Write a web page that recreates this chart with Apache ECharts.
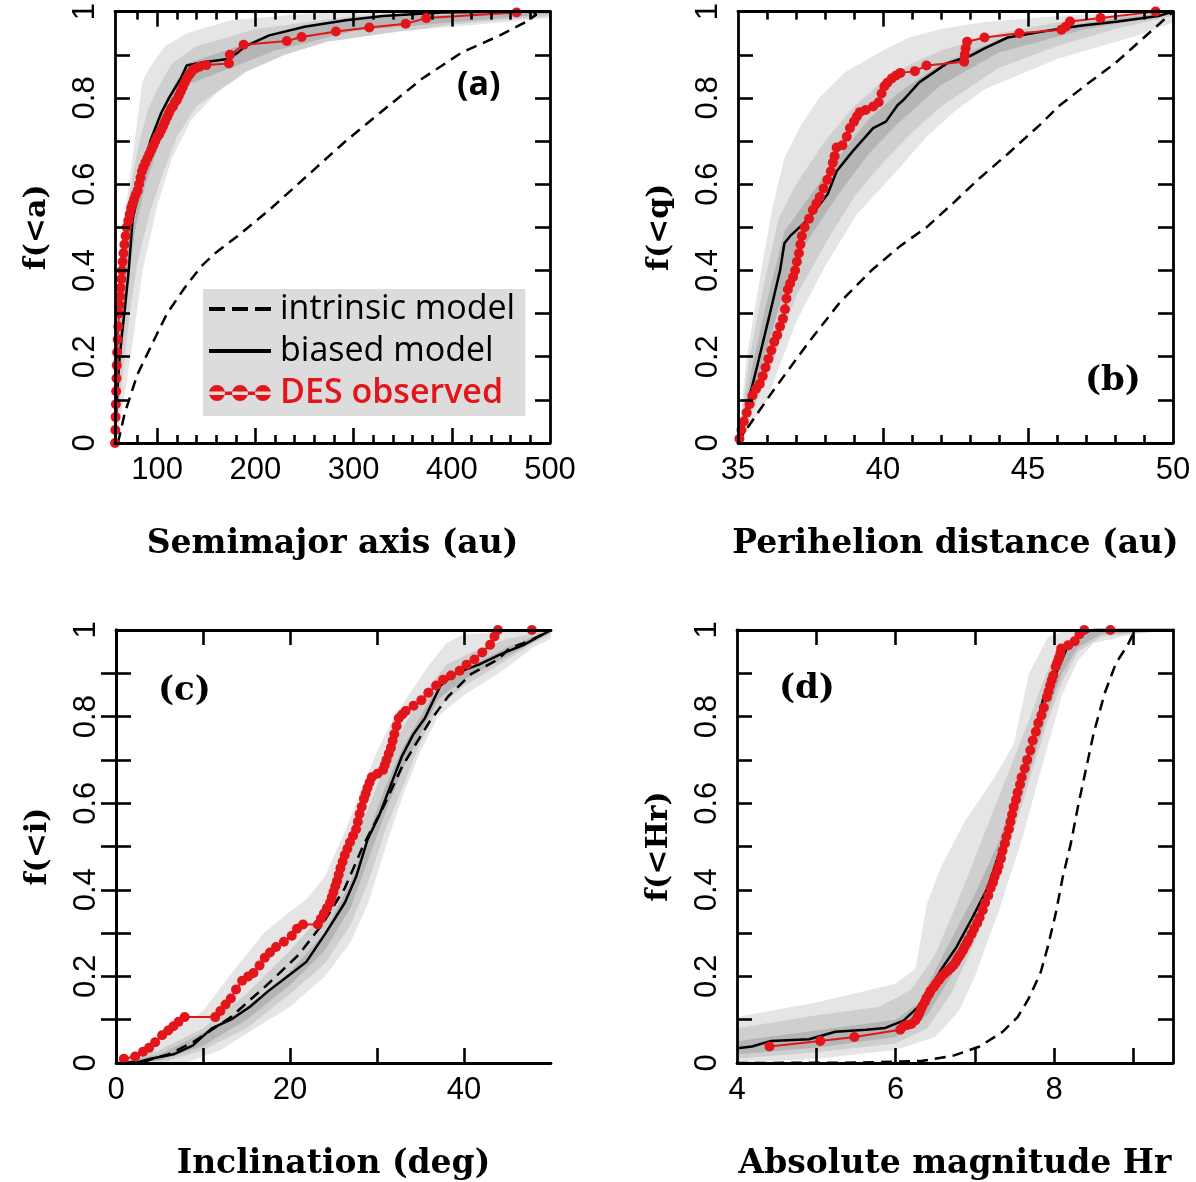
<!DOCTYPE html>
<html>
<head>
<meta charset="utf-8">
<title>DES ETNO distributions</title>
<script src="https://cdn.jsdelivr.net/npm/echarts@6/dist/echarts.min.js"></script>
<style>
  html, body { margin: 0; padding: 0; background: #fff; }
  #main { width: 1196px; height: 1182px; }
</style>
</head>
<body>
<div id="main"></div>
<script>
// ---- axis ticks / labels ----
var yTicks = [0.1, 0.2, 0.3, 0.4, 0.5, 0.6, 0.7, 0.8, 0.9];
var yLabels = [0, 0.2, 0.4, 0.6, 0.8, 1];

var aRange = [57, 500];
var aMajor = [100, 200, 300, 400];
var aMinor = [80, 120, 140, 160, 180, 220, 240, 260, 280, 320, 340, 360, 380, 420, 440, 460, 480];
var aLabels = [100, 200, 300, 400, 500];

var bRange = [35, 50];
var bMajor = [40, 45];
var bMinor = [36, 37, 38, 39, 41, 42, 43, 44, 46, 47, 48, 49];
var bLabels = [35, 40, 45, 50];

var cRange = [0, 50];
var cMajor = [10, 20, 30, 40];
var cLabels = [0, 20, 40];

var dRange = [4, 9.5];
var dMajor = [5, 6, 7, 8, 9];
var dLabels = [4, 6, 8];

// ---- (a) semimajor axis ----
var aIntrinsic = [[60,0],[63,0.03],[67,0.07],[80,0.16],[97,0.24],[110,0.3],[128,0.36],[145,0.41],[159,0.44],[182,0.48],[214,0.54],[253,0.62],[292,0.7],[332,0.775],[370,0.845],[410,0.905],[449,0.945],[476,0.977],[486,0.993],[483,1]];
var aBiased = [[57,0],[58,0.06],[61,0.18],[64,0.25],[67,0.31],[71,0.4],[75,0.52],[79,0.56],[85,0.625],[93,0.7],[104,0.765],[112,0.8],[124,0.845],[130,0.875],[140,0.88],[155,0.885],[172,0.89],[182,0.905],[190,0.92],[214,0.945],[250,0.965],[292,0.98],[330,0.99],[390,0.998],[470,1],[500,1]];
var aObserved = [[57,0],[57.3,0.03],[57.6,0.06],[57.9,0.09],[58.2,0.12],[58.5,0.15],[58.8,0.18],[59.2,0.21],[59.7,0.24],[60.3,0.27],[61,0.3],[61.6,0.32],[62.2,0.34],[62.8,0.36],[63.4,0.38],[64,0.4],[64.8,0.42],[65.6,0.44],[66.6,0.46],[67.8,0.48],[69,0.5],[70.5,0.515],[72,0.53],[73.5,0.545],[75,0.555],[76.5,0.565],[78,0.575],[80,0.585],[81.5,0.6],[83,0.615],[84.5,0.63],[86,0.64],[88,0.65],[90,0.66],[92,0.67],[94,0.68],[96,0.69],[98,0.7],[100,0.71],[102,0.715],[104,0.725],[106,0.735],[108,0.745],[110,0.755],[112,0.765],[114,0.775],[116,0.78],[118,0.79],[120,0.795],[122,0.805],[124,0.815],[126,0.825],[128,0.835],[130,0.845],[132,0.852],[134,0.858],[136,0.864],[139,0.868],[143,0.872],[150,0.876],[173,0.88],[174,0.9],[188,0.923],[232,0.932],[247,0.941],[282,0.954],[316,0.963],[353,0.972],[374,0.985],[466,0.998]];
var aOuterHi = [[57,0],[59,0.3],[62,0.42],[65,0.5],[70,0.58],[77,0.7],[85,0.84],[95,0.88],[108,0.92],[130,0.95],[175,0.98],[250,0.995],[350,1],[500,1]];
var aMidHi = [[57,0],[59,0.25],[62,0.38],[66,0.47],[72,0.58],[80,0.68],[90,0.77],[100,0.82],[115,0.88],[140,0.92],[200,0.96],[300,0.99],[400,1],[500,1]];
var aDarkHi = [[57,0],[59,0.2],[63,0.33],[68,0.45],[75,0.57],[85,0.66],[100,0.75],[115,0.82],[130,0.88],[170,0.91],[220,0.95],[300,0.985],[500,1]];
var aDarkLo = [[57,0],[60,0.12],[65,0.25],[70,0.37],[78,0.5],[88,0.6],[100,0.68],[115,0.76],[130,0.83],[170,0.865],[220,0.91],[300,0.955],[500,0.995]];
var aMidLo = [[57,0],[61,0.08],[66,0.18],[72,0.3],[80,0.42],[92,0.53],[105,0.62],[120,0.71],[140,0.78],[170,0.83],[220,0.88],[300,0.935],[400,0.97],[500,0.99]];
var aOuterLo = [[57,0],[62,0.05],[68,0.13],[76,0.25],[85,0.4],[100,0.55],[115,0.66],[135,0.75],[160,0.81],[190,0.86],[230,0.9],[273,0.93],[350,0.955],[450,0.975],[500,0.985]];

// ---- (b) perihelion distance ----
var bIntrinsic = [[35,0],[35.17,0.02],[36.2,0.12],[37.4,0.23],[38.5,0.325],[39.6,0.4],[40.6,0.457],[41.5,0.5],[42.4,0.555],[43.35,0.615],[44.3,0.67],[45.4,0.737],[46.1,0.783],[47,0.83],[48,0.88],[49,0.94],[50,1]];
var bBiased = [[35,0],[35.07,0.02],[35.65,0.175],[36.1,0.3],[36.45,0.4],[36.6,0.463],[36.8,0.48],[37.4,0.517],[38.1,0.578],[38.4,0.63],[38.95,0.676],[39.66,0.73],[40.1,0.745],[40.5,0.783],[40.7,0.795],[41.25,0.836],[42.2,0.88],[43,0.897],[43.5,0.915],[44.3,0.94],[45.5,0.954],[46.8,0.967],[48.1,0.977],[49.5,0.99],[50,1]];
var bObserved = [[35.05,0.01],[35.12,0.03],[35.2,0.05],[35.3,0.07],[35.4,0.09],[35.5,0.11],[35.62,0.125],[35.75,0.137],[35.85,0.155],[35.95,0.175],[36.05,0.195],[36.15,0.215],[36.25,0.235],[36.35,0.25],[36.45,0.27],[36.55,0.288],[36.62,0.31],[36.67,0.335],[36.72,0.356],[36.8,0.37],[36.9,0.385],[36.97,0.4],[37.03,0.42],[37.1,0.44],[37.15,0.46],[37.2,0.48],[37.3,0.5],[37.45,0.52],[37.58,0.54],[37.7,0.555],[37.82,0.57],[37.95,0.59],[38.08,0.61],[38.2,0.63],[38.27,0.65],[38.33,0.665],[38.4,0.685],[38.6,0.69],[38.75,0.71],[38.86,0.73],[39,0.745],[39.1,0.757],[39.2,0.767],[39.4,0.772],[39.66,0.78],[39.85,0.79],[39.95,0.81],[40.05,0.827],[40.15,0.835],[40.3,0.845],[40.45,0.852],[40.6,0.858],[41.1,0.862],[41.5,0.875],[42.8,0.884],[42.82,0.9],[42.85,0.915],[42.9,0.93],[43.5,0.94],[44.7,0.95],[46.15,0.958],[46.3,0.965],[46.45,0.977],[47.5,0.985],[49.4,1]];
var bOuterHi = [[35,0],[35.3,0.2],[35.8,0.4],[36.2,0.55],[36.6,0.66],[37.2,0.74],[37.8,0.8],[38.7,0.86],[40,0.91],[40.9,0.94],[42,0.96],[43.5,0.976],[46,0.99],[48.8,0.998],[50,1]];
var bMidHi = [[35,0],[35.4,0.2],[35.9,0.37],[36.4,0.52],[37,0.6],[38,0.7],[39,0.78],[40,0.84],[41,0.88],[42,0.91],[44,0.95],[46,0.975],[50,1]];
var bDarkHi = [[35,0],[35.5,0.18],[36,0.33],[36.6,0.49],[37.5,0.575],[38.5,0.665],[39.5,0.75],[40.5,0.81],[42,0.88],[44,0.935],[47,0.975],[50,1]];
var bDarkLo = [[35,0],[36,0.22],[36.8,0.4],[37.5,0.48],[38.5,0.58],[39.5,0.67],[40.5,0.74],[42,0.83],[44,0.905],[47,0.96],[50,0.995]];
var bMidLo = [[35,0],[36,0.15],[37,0.34],[38,0.46],[39,0.57],[40,0.65],[41,0.72],[42,0.78],[44,0.87],[46,0.92],[48,0.96],[50,0.99]];
var bOuterLo = [[35,0],[36,0.1],[37,0.28],[38,0.41],[39.1,0.53],[40.6,0.64],[41.5,0.71],[42.5,0.77],[43.5,0.82],[46,0.89],[48.8,0.945],[50,0.975]];

// ---- (c) inclination ----
var cIntrinsic = [[1,0],[3.5,0.005],[6,0.02],[8.8,0.047],[13.2,0.106],[17.5,0.183],[21,0.25],[23.7,0.32],[26.3,0.404],[28.5,0.506],[30.7,0.59],[32.9,0.685],[34.2,0.728],[36,0.787],[38.2,0.847],[40.8,0.898],[43.9,0.932],[45.2,0.957],[47.5,0.975],[50,1]];
var cBiased = [[0,0],[2.2,0],[4,0.01],[6.6,0.02],[8.8,0.04],[11,0.08],[13.2,0.1],[15.4,0.13],[17.5,0.166],[19.7,0.2],[21.9,0.234],[24.1,0.3],[26.3,0.37],[27.6,0.43],[28.9,0.515],[30.3,0.574],[31.6,0.643],[32.9,0.71],[34.2,0.76],[35.5,0.796],[37.3,0.872],[39,0.9],[41.7,0.92],[44.3,0.945],[46.9,0.966],[50,1]];
var cObserved = [[0.9,0.01],[2.2,0.015],[3.1,0.026],[3.8,0.035],[4.5,0.048],[5.3,0.064],[6,0.075],[6.6,0.085],[7.2,0.095],[7.9,0.106],[11.4,0.106],[12,0.12],[12.6,0.135],[13.2,0.149],[13.8,0.17],[14.5,0.19],[15.2,0.2],[15.8,0.208],[16.5,0.225],[17.1,0.243],[17.7,0.255],[18.4,0.268],[19.3,0.28],[20.2,0.294],[20.8,0.31],[21.5,0.32],[23.2,0.32],[23.55,0.333],[23.9,0.345],[24.25,0.358],[24.6,0.37],[24.8,0.383],[25,0.395],[25.2,0.408],[25.4,0.42],[25.6,0.435],[25.8,0.45],[26.05,0.465],[26.3,0.48],[26.6,0.495],[26.9,0.51],[27.25,0.525],[27.6,0.54],[27.8,0.557],[28,0.575],[28.25,0.592],[28.5,0.61],[28.7,0.622],[28.9,0.635],[29.15,0.648],[29.4,0.66],[30.05,0.668],[30.7,0.677],[30.9,0.688],[31.1,0.7],[31.35,0.714],[31.6,0.728],[31.8,0.744],[32,0.76],[32.25,0.778],[32.5,0.796],[32.9,0.805],[33.3,0.813],[34.2,0.825],[35.1,0.838],[35.9,0.855],[36.8,0.872],[37.6,0.885],[38.5,0.895],[39.5,0.906],[40.3,0.92],[41.2,0.932],[42.1,0.948],[43,0.966],[43.5,0.985],[43.9,1],[47.8,1]];
var cOuterHi = [[0,0],[5,0.05],[10,0.12],[13,0.2],[17,0.3],[20,0.35],[22,0.38],[24,0.43],[26,0.52],[28,0.62],[30,0.72],[32,0.8],[34,0.86],[36,0.92],[38,0.97],[40,0.99],[50,1]];
var cMidHi = [[0,0],[5,0.03],[10,0.08],[15,0.16],[20,0.26],[24,0.35],[26,0.43],[28,0.54],[30,0.64],[32,0.74],[34,0.81],[36,0.87],[38,0.92],[41,0.95],[45,0.98],[50,1]];
var cDarkHi = [[0,0],[5,0.02],[10,0.07],[15,0.13],[20,0.21],[24,0.3],[27,0.42],[29,0.53],[31,0.64],[33,0.73],[35,0.8],[37,0.87],[40,0.91],[45,0.96],[50,1]];
var cDarkLo = [[0,0],[5,0.005],[10,0.04],[15,0.1],[20,0.18],[24,0.26],[27,0.36],[29,0.47],[31,0.58],[33,0.68],[35,0.76],[37,0.84],[40,0.885],[45,0.94],[50,0.995]];
var cMidLo = [[0,0],[6,0.005],[10,0.03],[15,0.08],[20,0.16],[24,0.23],[27,0.32],[29,0.42],[31,0.54],[33,0.64],[35,0.74],[37,0.82],[40,0.87],[44,0.92],[48,0.97],[50,0.99]];
var cOuterLo = [[0,0],[8,0],[12,0.03],[16,0.08],[20,0.13],[24,0.2],[27,0.28],[29,0.37],[31,0.5],[33,0.62],[35,0.72],[37,0.8],[40,0.85],[44,0.9],[48,0.96],[50,0.98]];

// ---- (d) absolute magnitude ----
var dIntrinsic = [[4,0],[5.6,0.001],[6.34,0.005],[6.73,0.017],[7.06,0.038],[7.35,0.072],[7.54,0.106],[7.68,0.149],[7.83,0.209],[7.92,0.268],[8.02,0.345],[8.11,0.43],[8.21,0.506],[8.3,0.591],[8.4,0.677],[8.5,0.762],[8.64,0.855],[8.78,0.923],[8.93,0.966],[9.02,1]];
var dBiased = [[4,0.034],[4.19,0.038],[4.43,0.051],[4.91,0.055],[5.24,0.072],[5.63,0.077],[5.87,0.081],[6.1,0.098],[6.3,0.132],[6.44,0.174],[6.58,0.217],[6.77,0.268],[6.97,0.336],[7.16,0.404],[7.3,0.48],[7.44,0.557],[7.59,0.651],[7.73,0.745],[7.87,0.847],[8.02,0.898],[8.16,0.957],[8.3,0.983],[8.4,0.996],[8.5,1],[9.5,1]];
var dObserved = [[4.41,0.038],[5.05,0.051],[5.48,0.06],[6.06,0.077],[6.1,0.085],[6.15,0.088],[6.2,0.09],[6.25,0.098],[6.28,0.107],[6.3,0.115],[6.32,0.124],[6.34,0.132],[6.37,0.141],[6.39,0.15],[6.42,0.158],[6.44,0.166],[6.48,0.175],[6.51,0.183],[6.55,0.192],[6.58,0.2],[6.62,0.207],[6.66,0.213],[6.7,0.22],[6.73,0.226],[6.76,0.233],[6.78,0.24],[6.8,0.246],[6.82,0.251],[6.85,0.26],[6.87,0.268],[6.9,0.277],[6.92,0.285],[6.96,0.298],[6.99,0.31],[7.03,0.323],[7.06,0.336],[7.1,0.353],[7.13,0.37],[7.17,0.387],[7.2,0.404],[7.23,0.417],[7.25,0.43],[7.28,0.443],[7.3,0.455],[7.33,0.472],[7.35,0.49],[7.38,0.507],[7.4,0.523],[7.43,0.54],[7.45,0.557],[7.47,0.574],[7.49,0.591],[7.52,0.608],[7.54,0.625],[7.57,0.643],[7.59,0.66],[7.63,0.68],[7.66,0.7],[7.7,0.722],[7.73,0.745],[7.77,0.765],[7.8,0.785],[7.84,0.803],[7.87,0.821],[7.91,0.845],[7.93,0.858],[7.95,0.872],[7.97,0.884],[7.99,0.895],[8.02,0.915],[8.04,0.925],[8.06,0.935],[8.08,0.946],[8.09,0.957],[8.18,0.965],[8.26,0.974],[8.32,0.99],[8.38,1],[8.71,1]];
var dOuterHi = [[4,0.106],[5,0.14],[6,0.183],[6.25,0.217],[6.4,0.37],[6.58,0.455],[6.87,0.557],[7.25,0.66],[7.49,0.736],[7.68,0.898],[7.92,0.983],[8.16,1],[9.5,1]];
var dMidHi = [[4,0.08],[5,0.11],[5.8,0.13],[6.2,0.17],[6.5,0.25],[6.8,0.38],[7.1,0.52],[7.4,0.66],[7.7,0.8],[7.9,0.9],[8.1,0.96],[8.3,0.99],[8.5,1],[9.5,1]];
var dDarkHi = [[4,0.05],[5,0.075],[6,0.1],[6.3,0.14],[6.6,0.25],[7,0.39],[7.3,0.51],[7.6,0.68],[7.9,0.86],[8.1,0.94],[8.3,0.985],[8.5,1],[9.5,1]];
var dDarkLo = [[4,0.02],[5,0.035],[6,0.06],[6.4,0.11],[6.7,0.2],[7,0.31],[7.3,0.45],[7.6,0.62],[7.9,0.8],[8.1,0.9],[8.3,0.96],[8.6,0.99],[9.5,1]];
var dMidLo = [[4,0.01],[5,0.025],[6,0.045],[6.4,0.08],[6.7,0.16],[7,0.28],[7.3,0.43],[7.6,0.6],[7.9,0.78],[8.1,0.88],[8.3,0.95],[8.6,0.985],[9.5,1]];
var dOuterLo = [[4,0],[5,0.01],[6,0.03],[6.5,0.06],[6.8,0.12],[7,0.2],[7.3,0.35],[7.6,0.52],[7.9,0.72],[8.1,0.85],[8.3,0.93],[8.5,0.97],[9,0.99],[9.5,1]];

var RED = '#e3151a';
var TICK_FONT = 'Liberation Sans';
var X_NAME_STYLE = { fontFamily: 'DejaVu Serif', fontWeight: 'bold', fontSize: 33, color: '#000' };
var Y_NAME_STYLE = { fontFamily: 'DejaVu Serif', fontWeight: 'bold', fontSize: 30, color: '#000' };
// light / mid / dark band colours, inner bands drawn on top, white clears below the lower edges
var bandFill = ['#e5e5e5', '#cfcfcf', '#b5b5b5', '#cfcfcf', '#e5e5e5', '#ffffff'];

var panels = [
    { grid: { left: 115, top: 5, width: 435, height: 438 }, range: aRange, major: aMajor, minor: aMinor, labels: aLabels,
      xName: 'Semimajor axis (au)', yName: 'f(<a)',
      bands: [aOuterHi, aMidHi, aDarkHi, aDarkLo, aMidLo, aOuterLo], intrinsic: aIntrinsic, biased: aBiased, observed: aObserved },
    { grid: { left: 738, top: 5, width: 435, height: 438 }, range: bRange, major: bMajor, minor: bMinor, labels: bLabels,
      xName: 'Perihelion distance (au)', yName: 'f(<q)',
      bands: [bOuterHi, bMidHi, bDarkHi, bDarkLo, bMidLo, bOuterLo], intrinsic: bIntrinsic, biased: bBiased, observed: bObserved },
    { grid: { left: 116, top: 630, width: 435, height: 436 }, range: cRange, major: cMajor, minor: [], labels: cLabels,
      xName: 'Inclination (deg)', yName: 'f(<i)',
      bands: [cOuterHi, cMidHi, cDarkHi, cDarkLo, cMidLo, cOuterLo], intrinsic: cIntrinsic, biased: cBiased, observed: cObserved },
    { grid: { left: 737, top: 630, width: 436, height: 436 }, range: dRange, major: dMajor, minor: [], labels: dLabels,
      xName: 'Absolute magnitude Hr', yName: 'f(<Hr)',
      bands: [dOuterHi, dMidHi, dDarkHi, dDarkLo, dMidLo, dOuterLo], intrinsic: dIntrinsic, biased: dBiased, observed: dObserved }
];

var grids = [], xAxes = [], yAxes = [], series = [];

function tickAxis(base, ticks, len, showLine) {
    return Object.assign({
        type: 'value',
        z: 10,
        splitLine: { show: false },
        axisLine: { show: showLine, lineStyle: { color: '#000', width: 2.8 } },
        axisTick: { show: ticks.length > 0, inside: true, length: len, customValues: ticks, lineStyle: { color: '#000', width: 2.6 } },
        axisLabel: { show: false }
    }, base);
}

panels.forEach(function (p, g) {
    grids.push(Object.assign({ containLabel: false }, p.grid));

    var xi = xAxes.length;
    var xMain = tickAxis({ gridIndex: g, position: 'bottom', min: p.range[0], max: p.range[1] }, p.major, 15, true);
    xMain.axisLabel = { show: true, customValues: p.labels, fontFamily: TICK_FONT, fontSize: 31, color: '#000', margin: 12 };
    xMain.name = p.xName;
    xMain.nameLocation = 'middle';
    xMain.nameGap = 85;
    xMain.nameTextStyle = X_NAME_STYLE;
    xAxes.push(xMain);
    xAxes.push(tickAxis({ gridIndex: g, position: 'bottom', min: p.range[0], max: p.range[1] }, p.minor, 8, false));
    xAxes.push(tickAxis({ gridIndex: g, position: 'top', min: p.range[0], max: p.range[1] }, p.major, 15, true));
    xAxes.push(tickAxis({ gridIndex: g, position: 'top', min: p.range[0], max: p.range[1] }, p.minor, 8, false));

    var yi = yAxes.length;
    var yMain = tickAxis({ gridIndex: g, position: 'left', min: 0, max: 1 }, yTicks, 15, true);
    yMain.axisLabel = { show: true, customValues: yLabels, rotate: 90, fontFamily: TICK_FONT, fontSize: 31, color: '#000', margin: 14 };
    yMain.name = p.yName;
    yMain.nameLocation = 'middle';
    yMain.nameRotate = 90;
    yMain.nameGap = 63;
    yMain.nameTextStyle = Y_NAME_STYLE;
    yAxes.push(yMain);
    yAxes.push(tickAxis({ gridIndex: g, position: 'right', min: 0, max: 1 }, yTicks, 15, true));

    p.bands.forEach(function (b, k) {
        series.push({
            type: 'line', xAxisIndex: xi, yAxisIndex: yi, data: b,
            symbol: 'none', silent: true, z: 1 + k * 0.1,
            lineStyle: { width: 0 },
            areaStyle: { color: bandFill[k], opacity: 1, origin: 'start' }
        });
    });
    series.push({
        name: 'intrinsic model', type: 'line', xAxisIndex: xi, yAxisIndex: yi, data: p.intrinsic,
        symbol: 'none', clip: false, z: 3,
        lineStyle: { color: '#000', width: 2.5, type: [11, 7] }, itemStyle: { color: '#000' }
    });
    series.push({
        name: 'biased model', type: 'line', xAxisIndex: xi, yAxisIndex: yi, data: p.biased,
        symbol: 'none', clip: false, z: 4,
        lineStyle: { color: '#000', width: 2.5 }, itemStyle: { color: '#000' }
    });
    series.push({
        name: 'DES observed', type: 'line', xAxisIndex: xi, yAxisIndex: yi, data: p.observed,
        symbol: 'circle', symbolSize: 10, clip: false, z: 5,
        lineStyle: { color: RED, width: 2 }, itemStyle: { color: RED }
    });
});

var panelLabel = function (txt, left, top, family) {
    return { text: txt, left: left, top: top, padding: 0,
             textStyle: { fontFamily: family, fontWeight: 'bold', fontSize: 34, color: '#000' } };
};

var option = {
    animation: false,
    backgroundColor: '#fff',
    title: [
        panelLabel('(a)', 457, 68, 'Open Sans'),
        panelLabel('(b)', 1085, 364, 'DejaVu Serif'),
        panelLabel('(c)', 158, 674, 'DejaVu Serif'),
        panelLabel('(d)', 779, 672, 'DejaVu Serif')
    ],
    legend: {
        left: 203, top: 289, orient: 'vertical', z: 20,
        backgroundColor: '#dcdcdc', padding: [3, 10, 6, 6],
        itemWidth: 62, itemHeight: 22, itemGap: 8, selectedMode: false,
        textStyle: { fontFamily: 'Open Sans', fontSize: 34, color: '#000', padding: [0, 0, 0, 4] },
        data: [
            { name: 'intrinsic model', icon: 'path://M0,0h16v4h-16z M23,0h16v4h-16z M46,0h16v4h-16z', itemStyle: { color: '#000' } },
            { name: 'biased model', icon: 'path://M0,0h62v4h-62z', itemStyle: { color: '#000' } },
            { name: 'DES observed', textStyle: { color: RED, fontWeight: 600 }, itemStyle: { color: RED },
              icon: 'path://M0,6.5h62v3.5h-62z M0,8a8,8 0 1,0 16,0a8,8 0 1,0 -16,0z M23,8a8,8 0 1,0 16,0a8,8 0 1,0 -16,0z M46,8a8,8 0 1,0 16,0a8,8 0 1,0 -16,0z' }
        ]
    },
    grid: grids,
    xAxis: xAxes,
    yAxis: yAxes,
    series: series
};

var chart = echarts.init(document.getElementById('main'));
chart.setOption(option);
window.addEventListener('resize', function () {
    chart.resize();
});
</script>
</body>
</html>
